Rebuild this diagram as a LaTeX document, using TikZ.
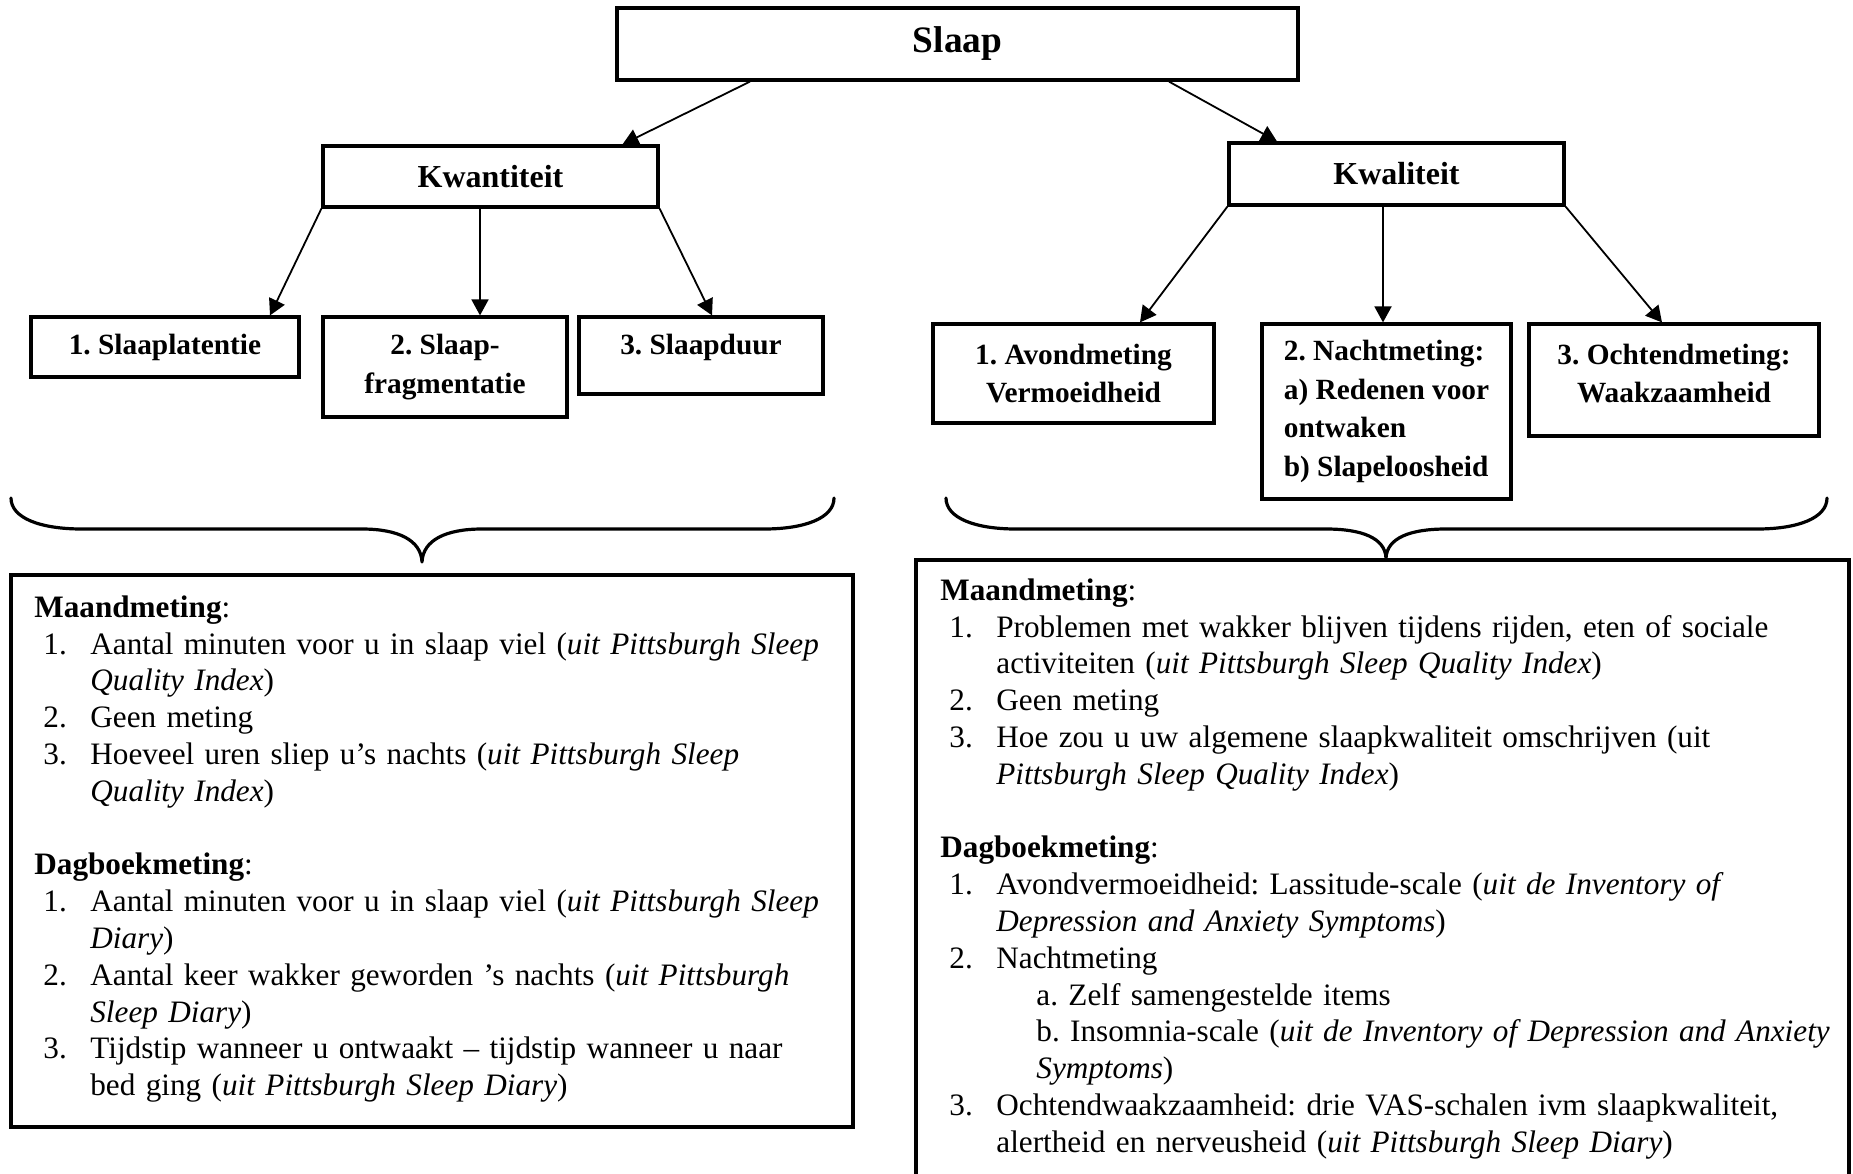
\documentclass[tikz,border=0pt]{standalone}
\usepackage{fontspec}
\setmainfont{Liberation Serif}
\usetikzlibrary{arrows.meta,calc}
\frenchspacing
\newcommand\numitem[2]{\par\noindent\hangindent=28pt\hangafter=1\makebox[28pt][l]{\hspace{4.5pt}#1}#2}
\newcommand\subpt[1]{\par\noindent\hangindent=48pt\hangafter=0 #1}
\newcommand\blankln{\par\noindent\strut}
\tikzset{
  box/.style={draw, line width=1.6pt, inner sep=0pt, align=center,
    font=\fontsize{14.67}{19.25}\selectfont\bfseries\frenchspacing},
  lbl/.style={inner sep=0pt, align=center, font=\fontsize{14.67}{19.25}\selectfont\bfseries\frenchspacing},
  conn/.style={line width=0.9pt, -{Triangle[length=8pt,width=8.5pt]}},
  brace/.style={line width=1.6pt, line join=round, line cap=round},
  txt/.style={inner sep=0pt, anchor=north west, font=\fontsize{15.6}{18.4}\selectfont\frenchspacing}
}
\begin{document}
\begin{tikzpicture}[x=0.5pt,y=-0.5pt]
\useasboundingbox (0,0) rectangle (1853,1173);
\clip (0,0) rectangle (1853,1173);
\fill[white] (0,0) rectangle (1853,1173);

% top levels
\node[box, minimum width=340.5pt, minimum height=36pt, font=\fontsize{18.67}{22}\selectfont\bfseries] (slaap) at (957.5,44) {Slaap};
\node[box, minimum width=167.5pt, minimum height=30.5pt, font=\fontsize{16}{19}\selectfont\bfseries] (kwan) at (490.5,176.5) {Kwantiteit};
\node[box, minimum width=167.5pt, minimum height=31pt, font=\fontsize{16}{19}\selectfont\bfseries] (kwal) at (1396.5,174) {Kwaliteit};

% quantity children
\node[box, minimum width=134pt, minimum height=30pt] (c1) at (165,347) {1. Slaaplatentie};
\node[box, minimum width=122pt, minimum height=50pt] (c2) at (445,367) {2. Slaap-\\fragmentatie};
\node[box, minimum width=122pt, minimum height=38.5pt] (c3) at (701,355.5) {};
\node[lbl] (c3t) at ($(c3.center)+(0,-8.5)$) {3. Slaapduur};

% quality children
\node[box, minimum width=140.5pt, minimum height=49.5pt] (q1) at (1073.5,373.5) {1. Avondmeting\\Vermoeidheid};
\node[box, minimum width=124.5pt, minimum height=87.5pt, align=left] (q2) at (1386.5,411.5) {2. Nachtmeting:\\a) Redenen voor\\ontwaken\\b) Slapeloosheid};
\node[box, minimum width=145pt, minimum height=56pt] (q3) at (1674,380) {};
\node[lbl] (q3t) at ($(q3.center)+(0,-6.5)$) {3. Ochtendmeting:\\Waakzaamheid};

% connectors
\draw[conn] ($(slaap.south)+(-207.5,0)$) -- ($(kwan.north)+(132,0)$);
\draw[conn] ($(slaap.south)+(211.5,0)$) -- ($(kwal.north)+(-119.5,0)$);
\draw[conn] (kwan.south west) -- ($(c1.north)+(105,0)$);
\draw[conn] ($(kwan.south)+(-10.5,0)$) -- ($(c2.north)+(35,0)$);
\draw[conn] (kwan.south east) -- ($(c3.north)+(11,0)$);
\draw[conn] (kwal.south west) -- ($(q1.north)+(66.5,0)$);
\draw[conn] ($(kwal.south)+(-13.5,0)$) -- ($(q2.north)+(-3.5,0)$);
\draw[conn] (kwal.south east) -- ($(q3.north)+(-12,0)$);

% braces
\draw[brace] (11,498) .. controls (11,518) and (40,529) .. (82,529) -- (362,529)
  .. controls (398,529) and (421,540) .. (422,562)
  .. controls (423,540) and (446,529) .. (482,529) -- (764,529)
  .. controls (805,529) and (834,518) .. (834,498);
\draw[brace] (946,498) .. controls (946,518) and (975,529) .. (1016,529) -- (1326,529)
  .. controls (1362,529) and (1385,538) .. (1386,558)
  .. controls (1387,538) and (1410,529) .. (1446,529) -- (1757,529)
  .. controls (1798,529) and (1827,518) .. (1827,498);

% measurement boxes
\node[box, minimum width=421pt, minimum height=276pt] (lbox) at (432,851) {};
\node[box, minimum width=466.5pt, minimum height=330pt] (rbox) at (1382.5,890) {};

\node[txt, text width=440pt] (ltext) at (34,591.2) {\setlength\parskip{0pt}%
\noindent\strut\textbf{Maandmeting}:
\numitem{1.}{Aantal minuten voor u in slaap viel (\textit{uit Pittsburgh Sleep}\newline \textit{Quality Index})}
\numitem{2.}{Geen meting}
\numitem{3.}{Hoeveel uren sliep u’s nachts (\textit{uit Pittsburgh Sleep}\newline \textit{Quality Index})}
\blankln
\par\noindent\textbf{Dagboekmeting}:
\numitem{1.}{Aantal minuten voor u in slaap viel (\textit{uit Pittsburgh Sleep}\newline \textit{Diary})}
\numitem{2.}{Aantal keer wakker geworden ’s nachts (\textit{uit Pittsburgh}\newline \textit{Sleep Diary})}
\numitem{3.}{Tijdstip wanneer u ontwaakt – tijdstip wanneer u naar\newline bed ging (\textit{uit Pittsburgh Sleep Diary})}\par};

\node[txt, text width=480pt] (rtext) at (940,574.2) {\setlength\parskip{0pt}%
\noindent\strut\textbf{Maandmeting}:
\numitem{1.}{Problemen met wakker blijven tijdens rijden, eten of sociale\newline activiteiten (\textit{uit Pittsburgh Sleep Quality Index})}
\numitem{2.}{Geen meting}
\numitem{3.}{Hoe zou u uw algemene slaapkwaliteit omschrijven (uit\newline \textit{Pittsburgh Sleep Quality Index})}
\blankln
\par\noindent\textbf{Dagboekmeting}:
\numitem{1.}{Avondvermoeidheid: Lassitude-scale (\textit{uit de Inventory of}\newline \textit{Depression and Anxiety Symptoms})}
\numitem{2.}{Nachtmeting}
\subpt{a. Zelf samengestelde items}
\subpt{b. Insomnia-scale (\textit{uit de Inventory of Depression and Anxiety}\newline \textit{Symptoms})}
\numitem{3.}{Ochtendwaakzaamheid: drie VAS-schalen ivm slaapkwaliteit,\newline alertheid en nerveusheid (\textit{uit Pittsburgh Sleep Diary})}\par};
\end{tikzpicture}
\end{document}
